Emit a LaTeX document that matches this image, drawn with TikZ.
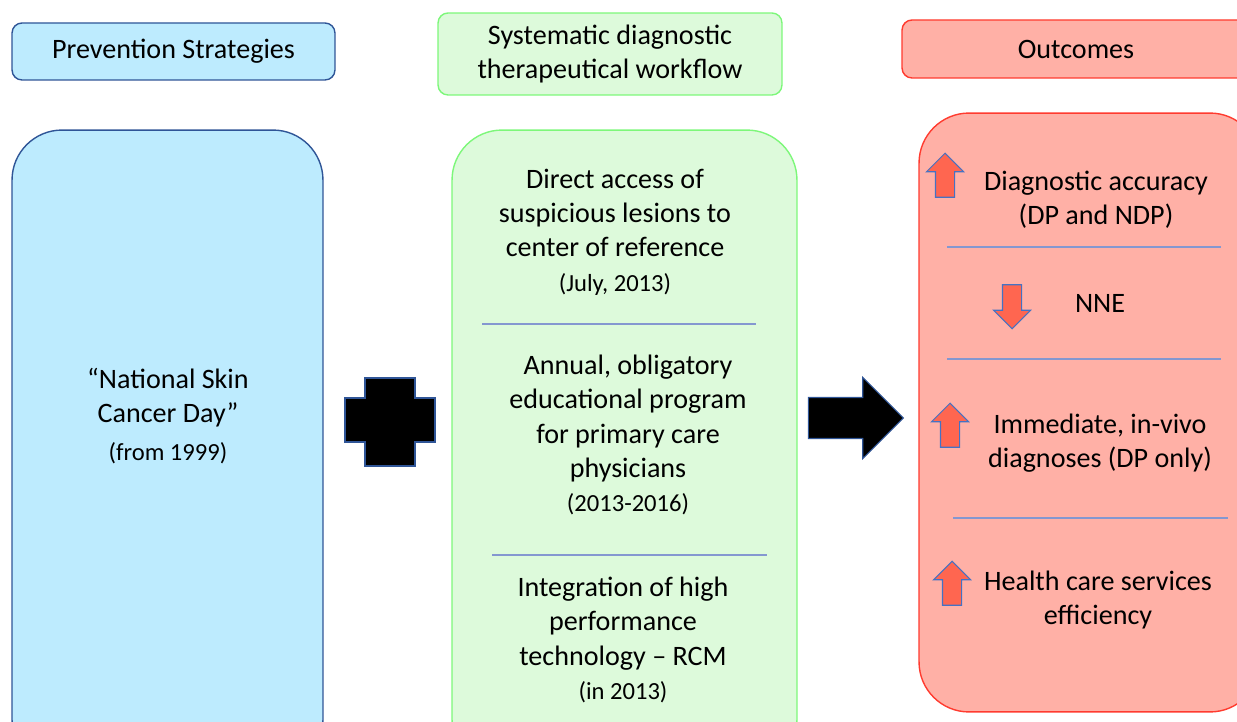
\documentclass[tikz,border=0pt]{standalone}
\usepackage{fontspec}
\setmainfont{Carlito}
\usetikzlibrary{shapes.arrows}

\definecolor{prevfill}{RGB}{189,235,254}
\definecolor{prevline}{RGB}{47,85,151}
\definecolor{wffill}{RGB}{221,250,219}
\definecolor{wfline}{RGB}{125,247,122}
\definecolor{outfill}{RGB}{255,176,166}
\definecolor{outline}{RGB}{255,59,47}
\definecolor{arrfill}{RGB}{255,102,80}
\definecolor{arrline}{RGB}{68,114,196}
\definecolor{sepcol}{RGB}{132,151,208}

\tikzset{
  head/.style={rectangle,rounded corners=0.2cm,line width=0.8pt,align=center},
  panel/.style={rectangle,rounded corners=1cm,line width=0.8pt},
  txt/.style={align=center,font=\fontsize{16}{19.5}\selectfont},
  sepline/.style={draw=sepcol,line width=0.6pt},
  uparr/.style={single arrow,shape border rotate=90,fill=arrfill,draw=arrline,line width=0.6pt,
    inner sep=0.18cm,single arrow head extend=0.18cm,minimum height=0.88cm},
  downarr/.style={uparr,shape border rotate=270}
}
\newcommand{\smalltxt}{\fontsize{14}{17}\selectfont}

\begin{document}
\begin{tikzpicture}[x=0.02cm,y=-0.02cm]
\useasboundingbox (0,0) rectangle (1237,722);
\clip (0,0) rectangle (1237,722);

% headers
\node[head,fill=prevfill,draw=prevline,minimum width=6.46cm,minimum height=1.14cm] (prevhead) at (173.5,51.5) {};
\node[txt] at (prevhead) {Prevention Strategies};
\node[head,fill=wffill,draw=wfline,minimum width=6.88cm,minimum height=1.64cm] (wfhead) at (610,54) {};
\node[txt] at (wfhead) {Systematic diagnostic\\therapeutical workflow};
\node[head,fill=outfill,draw=outline,minimum width=6.96cm,minimum height=1.16cm] (outhead) at (1076,49) {};
\node[txt] at (outhead) {Outcomes};

% panels
\node[panel,fill=prevfill,draw=prevline,minimum width=6.22cm,minimum height=12.8cm] (prevbox) at (167.5,450) {};
\node[panel,fill=wffill,draw=wfline,minimum width=6.9cm,minimum height=12.8cm] (wfbox) at (624.5,450) {};
\node[panel,fill=outfill,draw=outline,minimum width=6.82cm,minimum height=11.98cm] (outbox) at (1089.5,412.5) {};

% prevention
\node[txt] (prevtxt) at (168,416) {``National Skin\\Cancer Day''\\[2pt]{\smalltxt (from 1999)}};

% plus sign
\draw[fill=black,draw=prevline,line width=0.6pt]
  (365,378) -- (415,378) -- (415,398) -- (435,398) -- (435,442) -- (415,442)
  -- (415,466) -- (365,466) -- (365,442) -- (345,442) -- (345,398) -- (365,398) -- cycle;

% workflow
\node[txt] (wf1) at (615,232) {Direct access of\\suspicious lesions to\\center of reference\\{\smalltxt (July, 2013)}};
\draw[sepline] (482,324) -- (756,324);
\node[txt] (wf2) at (628,435) {Annual, obligatory\\educational program\\for primary care\\physicians\\{\smalltxt (2013-2016)}};
\draw[sepline] (492,555) -- (767,555);
\node[txt] (wf3) at (623,640) {Integration of high\\performance\\technology -- RCM\\{\smalltxt (in 2013)}};

% big arrow
\node[single arrow,fill=black,draw=prevline,line width=0.6pt,inner sep=0.4cm,
  single arrow head extend=0.4cm,minimum height=1.9cm] (toarrow) at (845.5,418) {};

% outcomes
\node[uparr] (up1) at (945,180) {};
\node[txt] (out1) at (1096,200) {Diagnostic accuracy\\(DP and NDP)};
\draw[sepline] (947,247) -- (1221,247);
\node[downarr] (down1) at (1012,302) {};
\node[txt] (out2) at (1100,303) {NNE};
\draw[sepline] (947,359) -- (1221,359);
\node[uparr] (up2) at (950,430) {};
\node[txt] (out3) at (1100,443) {Immediate, in-vivo\\diagnoses (DP only)};
\draw[sepline] (953,518) -- (1228,518);
\node[uparr] (up3) at (952,588) {};
\node[txt] (out4) at (1098,600) {Health care services\\efficiency};
\end{tikzpicture}
\end{document}
